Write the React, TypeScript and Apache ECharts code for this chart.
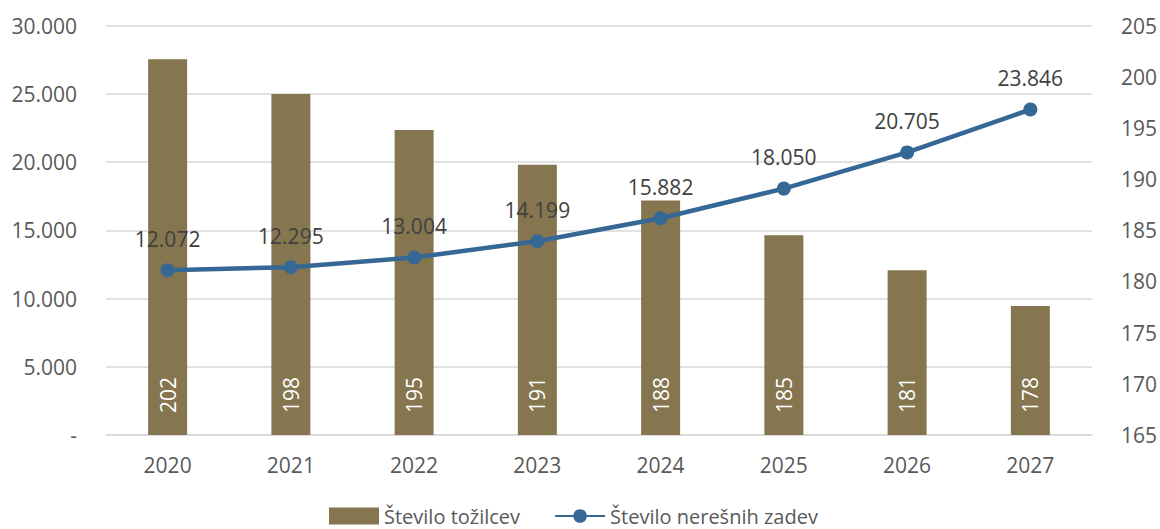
import React, { useEffect, useRef } from "react";
import * as echarts from "echarts";

const years = ["2020", "2021", "2022", "2023", "2024", "2025", "2026", "2027"];
const prosecutors = [201.7, 198.3, 194.8, 191.4, 187.9, 184.5, 181.1, 177.6];
const pendingCases = [12072, 12295, 13004, 14199, 15882, 18050, 20705, 23846];

const FONT = "Open Sans";
const AXIS_COLOR = "#595959";

function fmt(v: number): string {
  if (v === 0) return "-";
  return String(v).replace(/\B(?=(\d{3})+(?!\d))/g, ".");
}

export default function App() {
  const ref = useRef<HTMLDivElement>(null);
  useEffect(() => {
    const chart = echarts.init(ref.current!, undefined, { renderer: "svg" });
    chart.setOption({
      animation: false,
      textStyle: { fontFamily: FONT },
      grid: { left: 106, right: 68, top: 25.5, bottom: 94 },
      legend: {
        top: 505,
        left: 329,
        padding: 0,
        itemWidth: 50,
        itemHeight: 17,
        itemGap: 34,
        textStyle: { fontFamily: FONT, fontSize: 20, lineHeight: 22, color: AXIS_COLOR },
        data: [
          { name: "Število tožilcev", icon: "rect" },
          { name: "Število nerešnih zadev" },
        ],
      },
      xAxis: {
        type: "category",
        data: years,
        axisLine: { lineStyle: { color: "#d9d9d9", width: 1.5 } },
        axisTick: { show: false },
        axisLabel: { color: AXIS_COLOR, fontSize: 21, margin: 19, fontFamily: FONT },
      },
      yAxis: [
        {
          type: "value",
          min: 0,
          max: 30000,
          interval: 5000,
          position: "left",
          axisLine: { show: false },
          axisTick: { show: false },
          splitLine: { lineStyle: { color: "#d9d9d9", width: 1.5 } },
          axisLabel: { color: AXIS_COLOR, fontSize: 21, margin: 29, fontFamily: FONT, formatter: (v: number) => fmt(v) },
        },
        {
          type: "value",
          min: 165,
          max: 205,
          interval: 5,
          position: "right",
          axisLine: { show: false },
          axisTick: { show: false },
          splitLine: { show: false },
          axisLabel: { color: AXIS_COLOR, fontSize: 21, margin: 29, fontFamily: FONT },
        },
      ],
      series: [
        {
          name: "Število tožilcev",
          type: "bar",
          yAxisIndex: 1,
          data: prosecutors,
          barWidth: 39,
          itemStyle: { color: "#85764f" },
          label: {
            show: true,
            position: "insideBottom",
            rotate: 90,
            align: "left",
            verticalAlign: "middle",
            distance: 22,
            color: "#ffffff",
            fontSize: 21,
            fontFamily: FONT,
            formatter: (p: any) => String(Math.round(p.value)),
          },
        },
        {
          name: "Število nerešnih zadev",
          type: "line",
          yAxisIndex: 0,
          data: pendingCases,
          symbol: "circle",
          symbolSize: 14,
          lineStyle: { color: "#356895", width: 4.5 },
          itemStyle: { color: "#356895" },
          label: {
            show: true,
            position: "top",
            distance: 14,
            color: "#404040",
            fontSize: 21,
            fontFamily: FONT,
            formatter: (p: any) => fmt(p.value),
          },
        },
      ],
    });
    return () => chart.dispose();
  }, []);
  return <div ref={ref} style={{ width: 1160, height: 529, position: "absolute", left: 0, top: 0 }} />;
}
